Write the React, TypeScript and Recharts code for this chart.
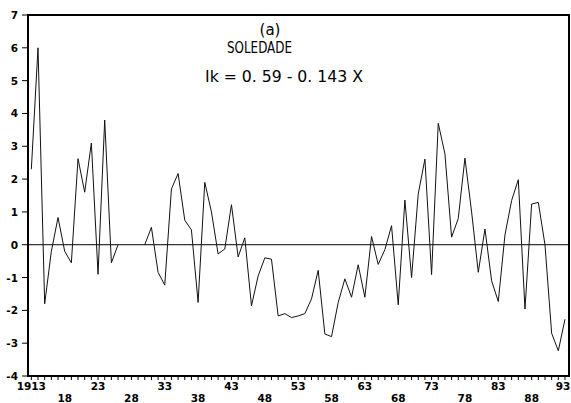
import React from "react";
import { LineChart, Line, XAxis, YAxis, ReferenceLine, ReferenceArea } from "recharts";

const years: number[] = [
  1913, 1914, 1915, 1916, 1917, 1918, 1919, 1920, 1921, 1922,
  1923, 1924, 1925, 1926, 1927, 1928, 1929, 1930, 1931, 1932,
  1933, 1934, 1935, 1936, 1937, 1938, 1939, 1940, 1941, 1942,
  1943, 1944, 1945, 1946, 1947, 1948, 1949, 1950, 1951, 1952,
  1953, 1954, 1955, 1956, 1957, 1958, 1959, 1960, 1961, 1962,
  1963, 1964, 1965, 1966, 1967, 1968, 1969, 1970, 1971, 1972,
  1973, 1974, 1975, 1976, 1977, 1978, 1979, 1980, 1981, 1982,
  1983, 1984, 1985, 1986, 1987, 1988, 1989, 1990, 1991, 1992,
  1993,
];

const ikValues: (number | null)[] = [
  2.3, 6.0, -1.8, -0.2, 0.83, -0.2, -0.55, 2.62, 1.6, 3.1,
  -0.9, 3.8, -0.55, 0.0, null, null, null, 0.0, 0.53, -0.84,
  -1.23, 1.7, 2.17, 0.75, 0.45, -1.76, 1.9, 1.0, -0.28, -0.13,
  1.22, -0.37, 0.21, -1.86, -0.95, -0.4, -0.44, -2.17, -2.1, -2.22,
  -2.17, -2.1, -1.65, -0.78, -2.72, -2.8, -1.76, -1.04, -1.6, -0.61,
  -1.6, 0.25, -0.6, -0.15, 0.58, -1.83, 1.36, -1.0, 1.55, 2.61,
  -0.91, 3.7, 2.77, 0.23, 0.8, 2.64, 1.0, -0.84, 0.48, -1.1,
  -1.73, 0.3, 1.35, 1.98, -1.96, 1.24, 1.29, 0.0, -2.7, -3.23,
  -2.27,
];

const upperLabelYears = [1913, 1923, 1933, 1943, 1953, 1963, 1973, 1983, 1993];
const upperLabels = ["1913", "23", "33", "43", "53", "63", "73", "83", "93"];
const lowerLabelYears = [1918, 1928, 1938, 1948, 1958, 1968, 1978, 1988];
const lowerLabels = ["18", "28", "38", "48", "58", "68", "78", "88"];
const yTicks = [-4, -3, -2, -1, 0, 1, 2, 3, 4, 5, 6, 7];

const titleTag = "(a)";
const stationName = "SOLEDADE";
const equation = "Ik = 0. 59 - 0. 143 X";

const data = years.map((yr, i) => ({ year: yr, ik: ikValues[i] }));

const tickFont = "'DejaVu Sans', sans-serif";

const XTick = (props: any) => {
  const { x, y, payload } = props;
  const v = payload.value;
  const ui = upperLabelYears.indexOf(v);
  const li = lowerLabelYears.indexOf(v);
  const lx = Math.min(x, 563);
  return (
    <g>
      <line x1={x} x2={x} y1={y} y2={y + 4} stroke="#000" strokeWidth={1} />
      {ui >= 0 && (
        <text x={lx} y={y + 14} textAnchor="middle" fontSize={10.5} fontWeight="bold" fontFamily={tickFont} fill="#000">
          {upperLabels[ui]}
        </text>
      )}
      {li >= 0 && (
        <text x={x} y={y + 26} textAnchor="middle" fontSize={10.5} fontWeight="bold" fontFamily={tickFont} fill="#000">
          {lowerLabels[li]}
        </text>
      )}
    </g>
  );
};

const YTick = (props: any) => {
  const { x, y, payload } = props;
  return (
    <g>
      <line x1={x - 6} x2={x} y1={y} y2={y} stroke="#000" strokeWidth={1} />
      <text x={x - 10} y={y + 4} textAnchor="end" fontSize={10.5} fontWeight="bold" fontFamily={tickFont} fill="#000">
        {String(payload.value)}
      </text>
    </g>
  );
};

export default function App() {
  return (
    <div style={{ position: "absolute", left: 0, top: 0, width: 571, height: 403, background: "#fff" }}>
      <LineChart width={571} height={403} data={data} margin={{ top: 15, right: 2, bottom: 0, left: 0 }}>
        <XAxis
          dataKey="year"
          type="number"
          domain={[1912.5, 1993.6]}
          ticks={years}
          interval={0}
          height={27}
          tickSize={0}
          tickMargin={0}
          tick={<XTick />}
          axisLine={{ stroke: "#000", strokeWidth: 2 }}
          tickLine={false}
          allowDataOverflow
        />
        <YAxis
          type="number"
          domain={[-4, 7]}
          ticks={yTicks}
          interval={0}
          width={28}
          tickSize={0}
          tickMargin={0}
          tick={<YTick />}
          axisLine={{ stroke: "#000", strokeWidth: 2 }}
          tickLine={false}
          allowDataOverflow
        />
        <ReferenceArea x1={1912.5} x2={1993.6} y1={-4} y2={7} fill="none" stroke="#000" strokeWidth={2} fillOpacity={0} />
        <ReferenceLine y={0} stroke="#000" strokeWidth={1} />
        <Line
          type="linear"
          dataKey="ik"
          stroke="#111"
          strokeWidth={1}
          dot={false}
          connectNulls={false}
          isAnimationActive={false}
        />
      </LineChart>
      <svg width={571} height={403} style={{ position: "absolute", left: 0, top: 0, pointerEvents: "none" }}>
        <text x={270} y={35} textAnchor="middle" fontSize={15} fontFamily="'DejaVu Sans', sans-serif" fill="#000">
          {titleTag}
        </text>
        <text x={227} y={53} fontSize={16} fontFamily="'DejaVu Sans', sans-serif" fill="#000" textLength={65} lengthAdjust="spacingAndGlyphs">
          {stationName}
        </text>
        <text x={205} y={82} fontSize={15} fontFamily="'DejaVu Sans', sans-serif" fill="#000" textLength={158} lengthAdjust="spacingAndGlyphs">
          {equation}
        </text>
      </svg>
    </div>
  );
}
